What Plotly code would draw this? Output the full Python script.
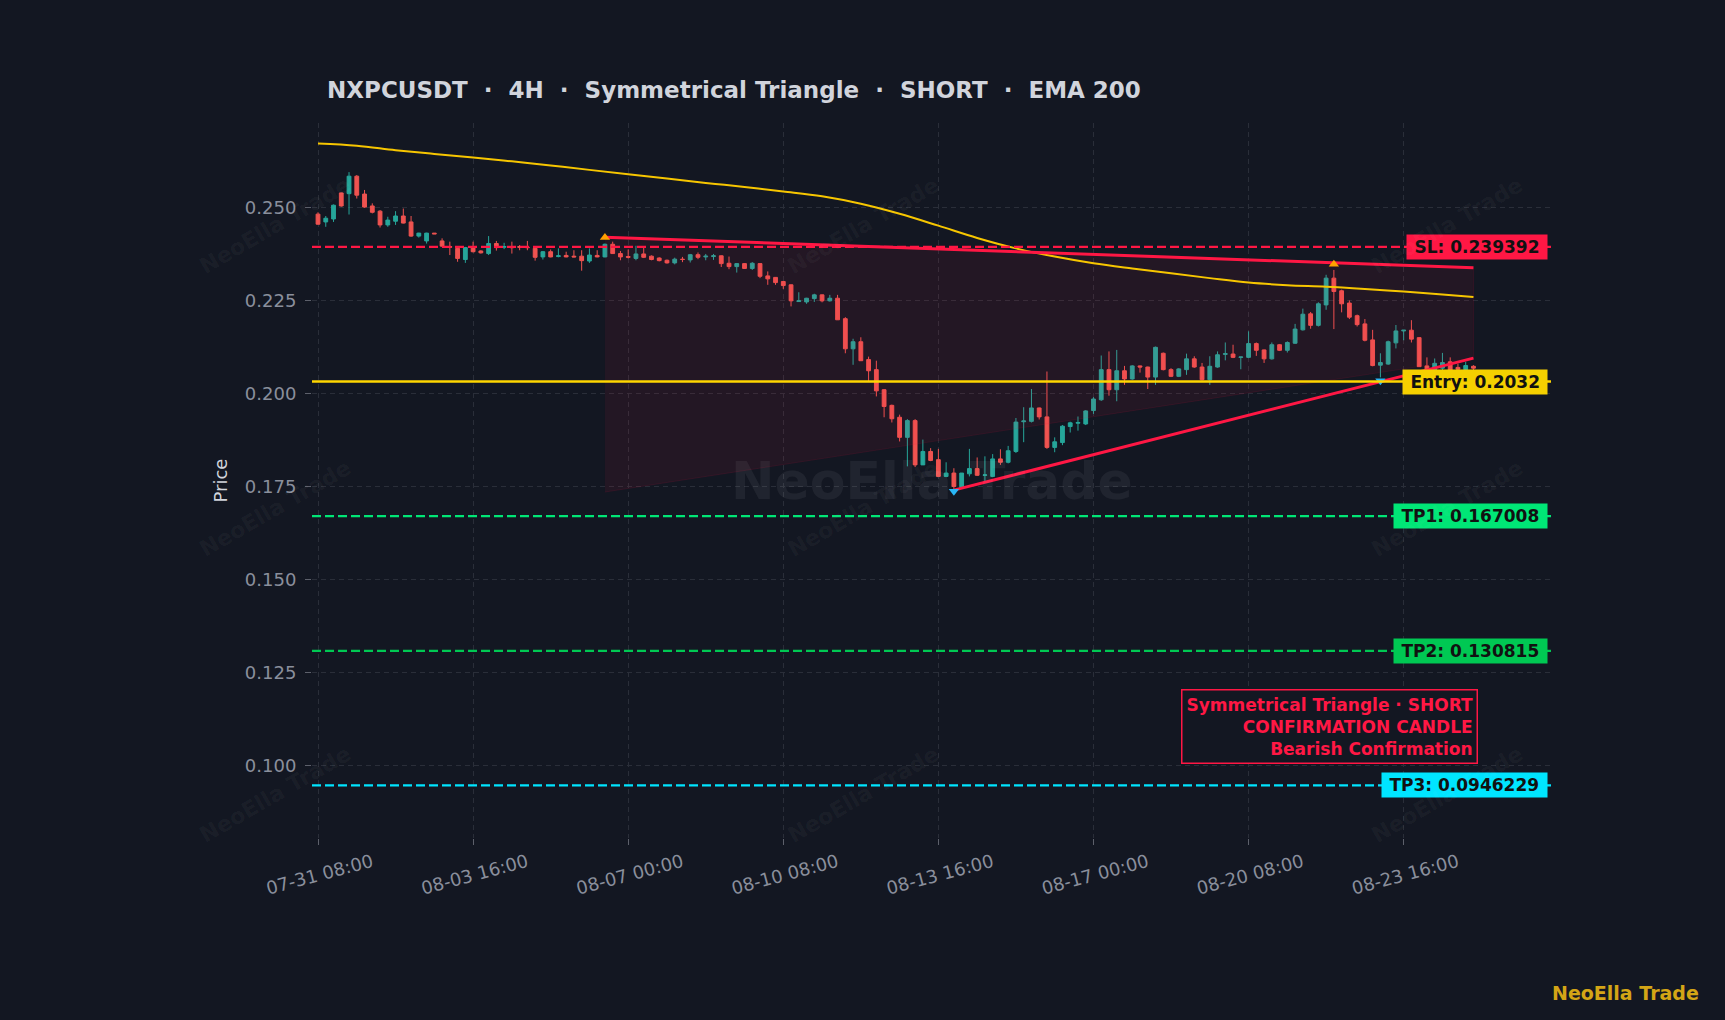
import pandas as pd
import plotly.graph_objects as go

# ---- data (4H candles, NXPCUSDT) ----
start_time = "2025-07-31 08:00"
n_candles = 150

opens = [
    0.2482, 0.2461, 0.2469, 0.2539, 0.2537, 0.2584, 0.2536, 0.2504, 0.2490, 0.2453,
    0.2463, 0.2477, 0.2461, 0.2423, 0.2410, 0.2431, 0.2410, 0.2395, 0.2390, 0.2360,
    0.2392, 0.2383, 0.2376, 0.2403, 0.2393, 0.2393, 0.2395, 0.2393, 0.2390, 0.2367,
    0.2381, 0.2368, 0.2371, 0.2369, 0.2369, 0.2356, 0.2371, 0.2367, 0.2401, 0.2376,
    0.2368, 0.2363, 0.2375, 0.2369, 0.2364, 0.2358, 0.2351, 0.2361, 0.2359, 0.2373,
    0.2367, 0.2368, 0.2370, 0.2350, 0.2341, 0.2349, 0.2336, 0.2349, 0.2316, 0.2312,
    0.2301, 0.2292, 0.2247, 0.2246, 0.2255, 0.2265, 0.2249, 0.2256, 0.2201, 0.2120,
    0.2139, 0.2091, 0.2064, 0.2010, 0.1968, 0.1936, 0.1882, 0.1927, 0.1808, 0.1844,
    0.1822, 0.1777, 0.1786, 0.1747, 0.1784, 0.1798, 0.1780, 0.1777, 0.1824, 0.1815,
    0.1844, 0.1924, 0.1925, 0.1961, 0.1937, 0.1855, 0.1868, 0.1911, 0.1920, 0.1918,
    0.1954, 0.1983, 0.2064, 0.2010, 0.2061, 0.2039, 0.2074, 0.2071, 0.2044, 0.2108,
    0.2064, 0.2046, 0.2064, 0.2093, 0.2071, 0.2037, 0.2071, 0.2105, 0.2106, 0.2097,
    0.2097, 0.2134, 0.2117, 0.2093, 0.2131, 0.2116, 0.2135, 0.2171, 0.2214, 0.2183,
    0.2238, 0.2310, 0.2276, 0.2243, 0.2209, 0.2187, 0.2144, 0.2076, 0.2079, 0.2136,
    0.2168, 0.2170, 0.2150, 0.2074, 0.2062, 0.2068, 0.2085, 0.2070, 0.2064, 0.2073,
]
highs = [
    0.2487, 0.2477, 0.2508, 0.2540, 0.2595, 0.2587, 0.2547, 0.2511, 0.2493, 0.2475,
    0.2490, 0.2497, 0.2477, 0.2432, 0.2432, 0.2431, 0.2417, 0.2408, 0.2394, 0.2394,
    0.2408, 0.2385, 0.2423, 0.2410, 0.2405, 0.2408, 0.2399, 0.2410, 0.2392, 0.2383,
    0.2387, 0.2390, 0.2381, 0.2385, 0.2385, 0.2390, 0.2385, 0.2403, 0.2408, 0.2383,
    0.2387, 0.2397, 0.2392, 0.2371, 0.2366, 0.2360, 0.2365, 0.2367, 0.2375, 0.2379,
    0.2375, 0.2375, 0.2371, 0.2368, 0.2350, 0.2350, 0.2353, 0.2350, 0.2328, 0.2313,
    0.2302, 0.2293, 0.2272, 0.2257, 0.2268, 0.2266, 0.2265, 0.2265, 0.2205, 0.2147,
    0.2151, 0.2099, 0.2088, 0.2012, 0.1970, 0.1943, 0.1931, 0.1931, 0.1876, 0.1853,
    0.1851, 0.1815, 0.1799, 0.1786, 0.1851, 0.1828, 0.1831, 0.1837, 0.1850, 0.1859,
    0.1934, 0.1963, 0.2012, 0.1962, 0.2059, 0.1882, 0.1915, 0.1924, 0.1938, 0.1955,
    0.1990, 0.2102, 0.2113, 0.2117, 0.2074, 0.2076, 0.2075, 0.2072, 0.2126, 0.2110,
    0.2068, 0.2068, 0.2107, 0.2100, 0.2082, 0.2100, 0.2113, 0.2137, 0.2131, 0.2098,
    0.2167, 0.2137, 0.2118, 0.2137, 0.2133, 0.2140, 0.2187, 0.2228, 0.2219, 0.2245,
    0.2319, 0.2332, 0.2279, 0.2250, 0.2212, 0.2200, 0.2171, 0.2108, 0.2142, 0.2184,
    0.2170, 0.2197, 0.2151, 0.2097, 0.2094, 0.2109, 0.2097, 0.2080, 0.2085, 0.2076,
]
lows = [
    0.2454, 0.2448, 0.2461, 0.2502, 0.2481, 0.2524, 0.2499, 0.2484, 0.2446, 0.2448,
    0.2453, 0.2457, 0.2421, 0.2419, 0.2403, 0.2429, 0.2394, 0.2372, 0.2354, 0.2351,
    0.2379, 0.2376, 0.2372, 0.2384, 0.2388, 0.2376, 0.2385, 0.2385, 0.2357, 0.2360,
    0.2366, 0.2366, 0.2366, 0.2366, 0.2330, 0.2351, 0.2366, 0.2366, 0.2375, 0.2358,
    0.2363, 0.2358, 0.2364, 0.2358, 0.2355, 0.2349, 0.2347, 0.2353, 0.2352, 0.2361,
    0.2358, 0.2359, 0.2340, 0.2334, 0.2325, 0.2335, 0.2332, 0.2310, 0.2292, 0.2292,
    0.2281, 0.2234, 0.2247, 0.2241, 0.2246, 0.2245, 0.2247, 0.2198, 0.2108, 0.2077,
    0.2088, 0.2032, 0.1992, 0.1936, 0.1922, 0.1871, 0.1804, 0.1802, 0.1808, 0.1818,
    0.1777, 0.1775, 0.1742, 0.1747, 0.1777, 0.1778, 0.1764, 0.1775, 0.1808, 0.1812,
    0.1840, 0.1869, 0.1922, 0.1930, 0.1851, 0.1842, 0.1861, 0.1895, 0.1900, 0.1915,
    0.1945, 0.1980, 0.1994, 0.1979, 0.2023, 0.2037, 0.2056, 0.2012, 0.2023, 0.2062,
    0.2044, 0.2044, 0.2050, 0.2069, 0.2035, 0.2023, 0.2069, 0.2089, 0.2095, 0.2065,
    0.2095, 0.2101, 0.2082, 0.2091, 0.2114, 0.2110, 0.2133, 0.2169, 0.2174, 0.2180,
    0.2225, 0.2173, 0.2218, 0.2200, 0.2180, 0.2140, 0.2073, 0.2043, 0.2077, 0.2121,
    0.2143, 0.2137, 0.2072, 0.2055, 0.2055, 0.2060, 0.2055, 0.2058, 0.2060, 0.2060,
]
closes = [
    0.2455, 0.2471, 0.2506, 0.2504, 0.2584, 0.2533, 0.2501, 0.2487, 0.2453, 0.2466,
    0.2477, 0.2458, 0.2423, 0.2431, 0.2431, 0.2429, 0.2396, 0.2393, 0.2363, 0.2392,
    0.2381, 0.2378, 0.2403, 0.2392, 0.2395, 0.2392, 0.2393, 0.2392, 0.2366, 0.2381,
    0.2367, 0.2370, 0.2367, 0.2367, 0.2357, 0.2372, 0.2367, 0.2401, 0.2376, 0.2367,
    0.2366, 0.2375, 0.2366, 0.2360, 0.2357, 0.2351, 0.2361, 0.2360, 0.2373, 0.2366,
    0.2369, 0.2370, 0.2349, 0.2341, 0.2349, 0.2336, 0.2350, 0.2315, 0.2308, 0.2298,
    0.2290, 0.2249, 0.2249, 0.2256, 0.2265, 0.2249, 0.2256, 0.2198, 0.2120, 0.2139,
    0.2088, 0.2061, 0.2007, 0.1965, 0.1932, 0.1882, 0.1927, 0.1808, 0.1844, 0.1820,
    0.1777, 0.1786, 0.1750, 0.1786, 0.1798, 0.1780, 0.1781, 0.1824, 0.1815, 0.1846,
    0.1923, 0.1926, 0.1961, 0.1937, 0.1855, 0.1870, 0.1912, 0.1921, 0.1922, 0.1953,
    0.1985, 0.2064, 0.2010, 0.2061, 0.2039, 0.2074, 0.2071, 0.2044, 0.2124, 0.2064,
    0.2046, 0.2066, 0.2093, 0.2071, 0.2037, 0.2073, 0.2104, 0.2107, 0.2097, 0.2098,
    0.2134, 0.2116, 0.2093, 0.2131, 0.2116, 0.2137, 0.2173, 0.2213, 0.2183, 0.2241,
    0.2310, 0.2274, 0.2241, 0.2205, 0.2185, 0.2143, 0.2075, 0.2083, 0.2139, 0.2168,
    0.2170, 0.2146, 0.2072, 0.2060, 0.2081, 0.2083, 0.2060, 0.2065, 0.2075, 0.2068,
]

# EMA 200 read every 5 candles
ema_idx = [0, 5, 10, 15, 20, 25, 30, 35, 40, 45, 50, 55, 60, 65, 70, 75,
           80, 85, 90, 95, 100, 105, 110, 115, 120, 125, 130, 135, 140, 145, 149]
ema_vals = [0.2672, 0.2666, 0.2654, 0.2644, 0.2634, 0.2624, 0.2613, 0.2601,
            0.2589, 0.2578, 0.2566, 0.2555, 0.2543, 0.2530, 0.2510, 0.2483,
            0.2451, 0.2418, 0.2390, 0.2368, 0.2350, 0.2336, 0.2323, 0.2310,
            0.2298, 0.2291, 0.2287, 0.2281, 0.2274, 0.2266, 0.2259]

# triangle
upper_idx = [37, 149]
upper_px = [0.2420, 0.2338]
lower_idx = [82, 149]
lower_px = [0.1740, 0.2095]
zone_idx = [37, 149, 149, 37]
zone_px = [0.2420, 0.2338, 0.2095, 0.1735]

pivot_high_idx = [37, 131]
pivot_high_px = [0.2419, 0.2347]
pivot_low_idx = [82, 137]
pivot_low_px = [0.1737, 0.2034]

sl = 0.239392
entry = 0.2032
tp1 = 0.167008
tp2 = 0.130815
tp3 = 0.0946229

title_text = "NXPCUSDT \u00a0·\u00a0 4H \u00a0·\u00a0 Symmetrical Triangle \u00a0·\u00a0 SHORT \u00a0·\u00a0 EMA 200"
note_lines = ["Symmetrical Triangle · SHORT", "CONFIRMATION CANDLE", "Bearish Confirmation"]
brand = "NeoElla Trade"

# ---- styling ----
BG = "#131722"
GRID = "#2a2e39"
CRIMSON = "#ff1744"
FONT = "DejaVu Sans"

times = pd.date_range(start_time, periods=n_candles, freq="4h")


def t(idx):
    return [times[i] for i in idx]


fig = go.Figure()

# triangle zone
fig.add_trace(go.Scatter(
    x=t(zone_idx), y=zone_px, fill="toself", mode="lines",
    fillcolor="rgba(255,23,68,0.07)", line=dict(color="rgba(255,23,68,0.10)", width=1),
    hoverinfo="skip", showlegend=False,
))

# EMA
fig.add_trace(go.Scatter(
    x=t(ema_idx), y=ema_vals, mode="lines", line=dict(color="#f7c600", width=2, shape="spline"),
    showlegend=False,
))

fig.add_trace(go.Candlestick(
    x=times, open=opens, high=highs, low=lows, close=closes,
    increasing=dict(line=dict(color="#26a69a", width=1), fillcolor="#26a69a"),
    decreasing=dict(line=dict(color="#ef5350", width=1), fillcolor="#ef5350"),
    whiskerwidth=0, showlegend=False,
))

# trend lines
for xs, ys in [(upper_idx, upper_px), (lower_idx, lower_px)]:
    fig.add_trace(go.Scatter(x=t(xs), y=ys, mode="lines",
                             line=dict(color=CRIMSON, width=3), showlegend=False))

fig.add_trace(go.Scatter(
    x=t(pivot_high_idx), y=pivot_high_px, mode="markers",
    marker=dict(symbol="triangle-up", size=9, color="#ffa000"), showlegend=False,
))
fig.add_trace(go.Scatter(
    x=t(pivot_low_idx), y=pivot_low_px, mode="markers",
    marker=dict(symbol="triangle-down", size=9, color="#29b6f6"), showlegend=False,
))

# levels
levels = [
    (sl, CRIMSON, "9px,4px", 2.2, f"SL: {sl}", CRIMSON),
    (entry, "#ffd600", "solid", 2.5, f"Entry: {entry}", "#f5d000"),
    (tp1, "#00e676", "9px,4px", 2.2, f"TP1: {tp1}", "#00e676"),
    (tp2, "#00c853", "9px,4px", 2.2, f"TP2: {tp2}", "#00c853"),
    (tp3, "#00e5ff", "9px,4px", 2.2, f"TP3: {tp3}", "#00e5ff"),
]
for y, col, dash, w, label, bg in levels:
    fig.add_hline(y=y, line=dict(color=col, dash=dash, width=w))
    fig.add_annotation(
        x=0.9975, xref="paper", y=y, yref="y", xanchor="right", yanchor="middle",
        text=f"\u00a0<b>{label}</b>\u00a0", showarrow=False, bgcolor=bg, borderpad=2,
        font=dict(family=FONT, size=17, color="#111111"),
    )

# confirmation note
fig.add_annotation(
    x=times[149], xref="x", y=0.1106, yref="y", xanchor="right", yanchor="middle", xshift=5,
    text="<br>".join(f"<b>{s}</b>" for s in note_lines), align="right",
    showarrow=False, bgcolor=BG, bordercolor=CRIMSON, borderwidth=1.5, borderpad=4,
    font=dict(family=FONT, size=17, color=CRIMSON),
)

# watermarks
fig.add_annotation(
    x=0.5, y=0.5, xref="paper", yref="paper", text=f"<b>{brand}</b>", showarrow=False,
    font=dict(family=FONT, size=52, color="rgba(255,255,255,0.06)"),
)
for wx in [-0.03, 0.445, 0.916]:
    for wy in [0.0615, 0.4615, 0.857]:
        fig.add_annotation(
            x=wx, y=wy, xref="paper", yref="paper", xanchor="center", yanchor="middle",
            text=f"<b>{brand}</b>", showarrow=False, textangle=-30,
            font=dict(family=FONT, size=22, color="rgba(255,255,255,0.045)"),
        )

fig.add_annotation(
    x=1.121, y=-0.2168, xref="paper", yref="paper", xanchor="right", yanchor="middle",
    text=f"<b>{brand}</b>", showarrow=False,
    font=dict(family=FONT, size=19, color="#d4a516"),
)

fig.update_layout(
    width=1725, height=1020,
    paper_bgcolor=BG, plot_bgcolor=BG,
    margin=dict(l=312, r=174, t=123, b=182),
    font=dict(family=FONT, color="#d1d4dc"),
    title=dict(text=f"<b>{title_text}</b>", x=0.1896, xanchor="left", y=0.912, yanchor="middle",
               xref="container", yref="container", font=dict(family=FONT, size=23, color="#d1d4dc")),
    showlegend=False,
)
fig.update_xaxes(
    type="date", rangeslider_visible=False,
    range=[times[0] - pd.Timedelta(hours=3.1), times[0] + pd.Timedelta(hours=636)],
    tick0=times[0], dtick=80 * 3600 * 1000, tickformat="%m-%d %H:%M", tickangle=-15,
    ticklabelshift=54,
    showgrid=True, gridcolor=GRID, griddash="5px,4px", zeroline=False, showline=False,
    ticks="outside", ticklen=6, tickcolor="#5d606b",
    tickfont=dict(family=FONT, size=18, color="#8a8f9c"),
)
fig.update_yaxes(
    range=[0.0805, 0.2727], dtick=0.025, tick0=0.1, tickformat=".3f",
    showgrid=True, gridcolor=GRID, griddash="5px,4px", zeroline=False, showline=False,
    ticks="outside", ticklen=6, tickcolor="#5d606b", ticklabelstandoff=5,
    tickfont=dict(family=FONT, size=18, color="#8a8f9c"),
    title=dict(text="Price", standoff=12, font=dict(family=FONT, size=18, color="#d1d4dc")),
)

fig.write_html(
    "out.html",
    config={"displayModeBar": False},
    post_script="document.body.style.margin='0';document.body.style.background='#131722';",
)
